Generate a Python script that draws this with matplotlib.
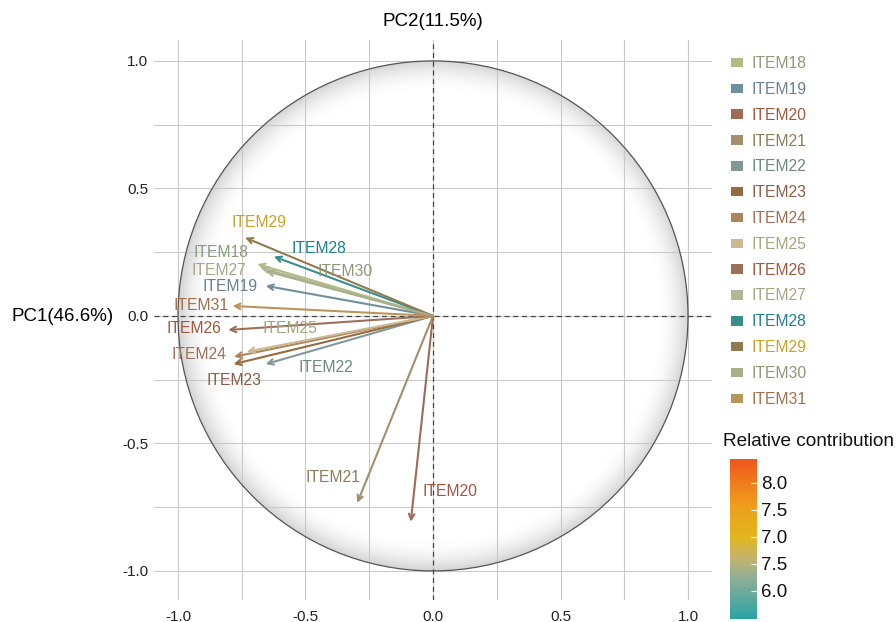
import matplotlib.pyplot as plt
import numpy as np
from matplotlib.colors import LinearSegmentedColormap
from matplotlib.patches import Circle, Patch
from matplotlib.ticker import MultipleLocator

plt.rcParams['font.family'] = ['Liberation Sans', 'DejaVu Sans']
plt.rcParams['axes.unicode_minus'] = False

# PCA loadings
items = ['ITEM18', 'ITEM19', 'ITEM20', 'ITEM21', 'ITEM22', 'ITEM23', 'ITEM24',
         'ITEM25', 'ITEM26', 'ITEM27', 'ITEM28', 'ITEM29', 'ITEM30', 'ITEM31']
pc1 = [-0.689, -0.656, -0.087, -0.297, -0.656, -0.782, -0.780,
       -0.730, -0.803, -0.676, -0.624, -0.737, -0.656, -0.786]
pc2 = [0.203, 0.118, -0.807, -0.733, -0.189, -0.189, -0.160,
       -0.140, -0.055, 0.189, 0.233, 0.307, 0.176, 0.039]
label_x = [-0.832, -0.797, 0.068, -0.393, -0.420, -0.780, -0.918,
           -0.5625, -0.9375, -0.840, -0.449, -0.684, -0.344, -0.910]
label_y = [0.247, 0.114, -0.690, -0.635, -0.204, -0.255, -0.153,
           -0.051, -0.051, 0.180, 0.263, 0.365, 0.173, 0.039]
arrow_colors = ['#b3bb84', '#6e8f9c', '#9d6b57', '#a28e6a', '#829898', '#956b3f', '#a8855a',
                '#cbb994', '#9a705b', '#b1b795', '#3a8d8d', '#8f7b4f', '#a9af8b', '#ba955b']
text_colors = ['#8e9a7c', '#6a7f93', '#a0573f', '#8b7b5b', '#6d8878', '#8b5b47', '#9e6f58',
               '#a3a47f', '#a0573f', '#a5a687', '#1f7f8f', '#c9a126', '#8b9777', '#a06f49']

cbar_ticks = [6.0, 6.5, 7.0, 7.5, 8.0]
cbar_labels = ['6.0', '7.5', '7.0', '7.5', '8.0']
cbar_range = (5.48, 8.44)

fig = plt.figure(figsize=(8.96, 6.22), dpi=100)
ax = fig.add_axes([153 / 896, 22 / 622, 560 / 896, 560 / 622])
ax.set_xlim(-1.094, 1.094)
ax.set_ylim(-1.114, 1.082)

# shaded unit circle, darker only close to the rim
g = np.linspace(-1, 1, 600)
gx, gy = np.meshgrid(g, g)
r = np.sqrt(gx ** 2 + gy ** 2)
shade = 1 - 0.17 * np.clip((r - 0.87) / 0.13, 0, 1) ** 2
img = ax.imshow(shade, extent=(-1, 1, -1, 1), cmap='gray', vmin=0, vmax=1,
                origin='lower', zorder=0.5, interpolation='bilinear')
clip = Circle((0, 0), 1, transform=ax.transData, facecolor='none')
img.set_clip_path(clip)
ax.add_patch(Circle((0, 0), 1, facecolor='none', edgecolor='#555555', lw=0.9, zorder=1.6))

ax.xaxis.set_major_locator(MultipleLocator(0.5))
ax.yaxis.set_major_locator(MultipleLocator(0.5))
ax.xaxis.set_minor_locator(MultipleLocator(0.25))
ax.yaxis.set_minor_locator(MultipleLocator(0.25))
ax.grid(which='both', color='#c9c9c9', lw=0.8)
ax.tick_params(which='both', length=0, labelsize=11, labelcolor='#222222')
ax.tick_params(axis='x', pad=7)
ax.tick_params(axis='y', pad=4)
for s in ax.spines.values():
    s.set_visible(False)
ax.axhline(0, color='#444444', lw=0.9, ls=(0, (4, 3)), zorder=1.7)
ax.axvline(0, color='#444444', lw=0.9, ls=(0, (4, 3)), zorder=1.7)

for i in range(len(items)):
    ax.annotate('', xy=(pc1[i], pc2[i]), xytext=(0, 0),
                arrowprops=dict(arrowstyle='->', color=arrow_colors[i], lw=1.5,
                                shrinkA=0, shrinkB=0, mutation_scale=10), zorder=3)
    ax.text(label_x[i], label_y[i], items[i], color=text_colors[i], fontsize=11.3,
            ha='center', va='center', zorder=4)

ax.set_title('PC2(11.5%)', fontsize=13.5, pad=10)
ax.set_ylabel('PC1(46.6%)', fontsize=13.5, rotation=0, ha='right', va='center')
ax.yaxis.set_label_coords(-0.072, 0.507)

handles = [Patch(facecolor=c, edgecolor='none') for c in arrow_colors]
leg = ax.legend(handles, items, loc='upper left', bbox_to_anchor=(1.0, 1.005),
                frameon=False, fontsize=11.3, labelcolor=text_colors,
                handlelength=0.8, handleheight=0.55, handletextpad=0.5,
                labelspacing=0.69, borderaxespad=0.8)

cmap = LinearSegmentedColormap.from_list('contrib', [
    (0.0, '#2aa3a3'), (0.25, '#8fae98'), (0.38, '#c6b36e'), (0.51, '#e2b61c'),
    (0.72, '#f09c1e'), (0.86, '#f07a1c'), (1.0, '#f0561c')])
cax = fig.add_axes([730 / 896, 3 / 622, 27 / 896, 160 / 622])
grad = np.linspace(cbar_range[0], cbar_range[1], 256).reshape(-1, 1)
cax.imshow(grad, aspect='auto', cmap=cmap, origin='lower',
           extent=(0, 1, cbar_range[0], cbar_range[1]))
cax.set_xlim(0, 1)
cax.set_ylim(*cbar_range)
cax.set_xticks([])
cax.yaxis.tick_right()
cax.set_yticks(cbar_ticks)
cax.set_yticklabels(cbar_labels)
cax.tick_params(axis='y', direction='in', length=4, color='white', width=0.8,
                labelsize=13.5, pad=3, labelcolor='#111111')
for s in cax.spines.values():
    s.set_visible(False)
fig.text(723 / 896, 1 - 441 / 622, 'Relative contribution', fontsize=13.7,
         ha='left', va='center', color='#111111')

fig.savefig('out.png', dpi=100)
